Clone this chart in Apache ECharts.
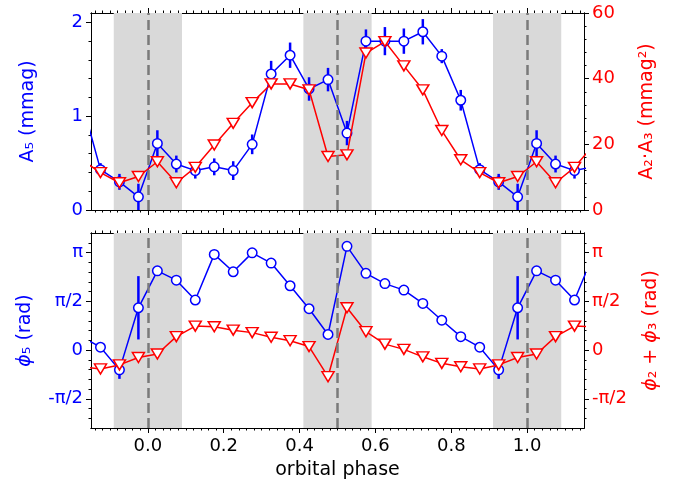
<!DOCTYPE html>
<html><head><meta charset="utf-8">
<script src="https://cdn.jsdelivr.net/npm/echarts@6/dist/echarts.min.js"></script>
<style>html,body{margin:0;padding:0;background:#fff}#c{width:683px;height:486px}</style>
</head><body><div id="c"></div><script>
// ---- data (one orbital cycle; repeated at +/-1 in phase for display) ----
const phases  = [0.025,0.075,0.125,0.175,0.225,0.275,0.325,0.375,0.425,0.475,0.525,0.575,0.625,0.675,0.725,0.775,0.825,0.875,0.925,0.975];
const amp5    = [0.71,0.49,0.42,0.46,0.42,0.70,1.45,1.65,1.29,1.39,0.82,1.80,1.80,1.80,1.90,1.64,1.17,0.43,0.30,0.14];
const amp5Err = [0.14,0.09,0.085,0.09,0.10,0.105,0.14,0.135,0.125,0.125,0.13,0.125,0.15,0.135,0.135,0.075,0.11,0.07,0.085,0.14];
const amp23   = [14.7,8.3,13.0,19.8,26.4,32.7,38.4,38.4,36.6,16.3,16.8,47.8,51.3,43.9,36.6,24.2,15.3,11.4,8.3,10.2];
const phi5    = [2.55,2.25,1.61,3.08,2.52,3.13,2.80,2.07,1.33,0.50,3.34,2.47,2.14,1.93,1.50,0.96,0.43,0.09,-0.64,1.36];
const phi5Err = [0.12,0.10,0.12,0.10,0.12,0.06,0.05,0.05,0.05,0.05,0.06,0.05,0.05,0.05,0.05,0.05,0.05,0.10,0.29,1.02];
const phi23   = [-0.13,0.43,0.77,0.75,0.64,0.56,0.41,0.30,0.11,-0.86,1.36,0.59,0.19,0.02,-0.22,-0.43,-0.54,-0.61,-0.48,-0.24];
const cycleShifts = [-1, 0, 1];
const eclipseCenters = [0, 0.5, 1];
const eclipseHalfWidth = 0.09;
const xTickValues = [0, 0.2, 0.4, 0.6, 0.8, 1.0];
const xTickLabels = ['0.0','0.2','0.4','0.6','0.8','1.0'];
const ampTickValues = [0, 1, 2];
const ampTickLabels = ['0', '1', '2'];
const prodTickValues = [0, 20, 40, 60];
const prodTickLabels = ['0', '20', '40', '60'];
const PI = Math.PI;
const phaseTickValues = [-PI/2, 0, PI/2, PI];
const phaseTickLabels = ['-π/2', '0', 'π/2', 'π'];

// ---- build ----
const xMin = -0.15, xMax = 1.15;
const FONT = 'DejaVu Sans';
const BLUE = '#0000ff', RED = '#ff0000';

function extend(vals, errs) {
  const out = [];
  cycleShifts.forEach(s => {
    phases.forEach((p, i) => {
      const x = +(p + s).toFixed(3);
      if (x > xMin - 0.06 && x < xMax + 0.06) out.push(errs ? [x, vals[i], errs[i]] : [x, vals[i]]);
    });
  });
  return out;
}
function minorList(step, kFrom, kTo, every) {
  const r = [];
  for (let k = kFrom; k <= kTo; k++) if (k % every !== 0) r.push(k * step);
  return r;
}
function fmt(values, labels) {
  return v => { for (let i = 0; i < values.length; i++) if (Math.abs(values[i] - v) < 1e-6) return labels[i]; return ''; };
}
const xMinor = minorList(0.02, -7, 57, 10);
const ampMinor = minorList(0.2, 1, 10, 5);
const prodMinor = minorList(4, 1, 15, 5);
const phaseMinor = minorList(PI/10, -7, 11, 5);

const xAxes = [];
function addX(grid, pos, major, labels) {
  xAxes.push({type:'value', gridIndex:grid, min:xMin, max:xMax, position:pos,
    splitLine:{show:false},
    axisLine:{show:true, onZero:false, lineStyle:{color:'#000', width:1}},
    axisTick:{show:true, inside:false, length: major ? 5 : 2.5, lineStyle:{color:'#000',width:1}, customValues: major ? xTickValues : xMinor},
    axisLabel:{show: !!labels, customValues:xTickValues, formatter: fmt(xTickValues, xTickLabels), color:'#000', fontSize:18, fontFamily:FONT, margin:9}
  });
  return xAxes.length - 1;
}
addX(0,'bottom',true,false); addX(0,'bottom',false,false); addX(0,'top',true,false); addX(0,'top',false,false);
addX(1,'bottom',true,true); addX(1,'bottom',false,false); addX(1,'top',true,false); addX(1,'top',false,false);
xAxes[4].name = 'orbital phase';
xAxes[4].nameLocation = 'middle';
xAxes[4].nameGap = 33;
xAxes[4].nameTextStyle = {color:'#000', fontSize:19, fontFamily:FONT};

const yAxes = [];
function addY(grid, pos, min, max, vals, labs, minor, color, name, gap) {
  const mk = (isMajor) => ({type:'value', gridIndex:grid, position:pos, min, max,
    splitLine:{show:false},
    axisLine:{show:true, onZero:false, lineStyle:{color:'#000', width:1}},
    axisTick:{show:true, inside:false, length: isMajor ? 5 : 2.5, lineStyle:{color:'#000', width:1}, customValues: isMajor ? vals : minor},
    axisLabel:{show:isMajor, customValues:vals, formatter:fmt(vals, labs), color, fontSize:18, fontFamily:FONT, margin:8}
  });
  const a = mk(true);
  a.name = name; a.nameLocation = 'middle'; a.nameGap = gap;
  a.nameTextStyle = {color, fontSize:19, fontFamily:FONT, rich:{i:{color, fontSize:19, fontFamily:FONT, fontStyle:'italic'}}};
  yAxes.push(a);
  const idx = yAxes.length - 1;
  yAxes.push(mk(false));
  return idx;
}
const yAmp = addY(0,'left',0,2.1,ampTickValues,ampTickLabels,ampMinor,BLUE,'A₅ (mmag)',53);
const yProd = addY(0,'right',0,60,prodTickValues,prodTickLabels,prodMinor,RED,'A₂·A₃ (mmag²)',54);
const yPhi5 = addY(1,'left',-0.8*PI,1.2*PI,phaseTickValues,phaseTickLabels,phaseMinor,BLUE,'{i|ϕ}₅ (rad)',56);
const yPhi23 = addY(1,'right',-0.8*PI,1.2*PI,phaseTickValues,phaseTickLabels,phaseMinor,RED,'{i|ϕ}₂ + {i|ϕ}₃ (rad)',58);

function bgSeries(xi, yi) {
  return {type:'line', xAxisIndex:xi, yAxisIndex:yi, data:[], z:0, silent:true,
    markArea:{silent:true, itemStyle:{color:'#d9d9d9'},
      data: eclipseCenters.map(c => [{xAxis:c - eclipseHalfWidth},{xAxis:c + eclipseHalfWidth}])},
    markLine:{silent:true, symbol:['none','none'], label:{show:false},
      lineStyle:{color:'#7a7a7a', type:[10,5], width:2.5},
      data: eclipseCenters.map(c => ({xAxis:c}))}
  };
}
function errSeries(xi, yi, data) {
  return {type:'custom', xAxisIndex:xi, yAxisIndex:yi, data, z:2, clip:true, silent:true,
    encode:{x:0, y:1},
    renderItem(params, api) {
      const x = api.value(0), y = api.value(1), e = api.value(2);
      const p1 = api.coord([x, y - e]), p2 = api.coord([x, y + e]);
      return {type:'line', shape:{x1:p1[0], y1:p1[1], x2:p2[0], y2:p2[1]},
        style:{stroke:BLUE, lineWidth:2.5}};
    }};
}
function circSeries(xi, yi, data) {
  return {type:'line', xAxisIndex:xi, yAxisIndex:yi, data, z:3, clip:true,
    symbol:'circle', symbolSize:9.5, showAllSymbol:true,
    itemStyle:{color:'#fff', borderColor:BLUE, borderWidth:1.5},
    lineStyle:{color:BLUE, width:1.5}};
}
function triSeries(xi, yi, data) {
  return {type:'line', xAxisIndex:xi, yAxisIndex:yi, data, z:4, clip:true,
    symbol:'triangle', symbolRotate:180, symbolSize:[12,10], showAllSymbol:true,
    itemStyle:{color:'#fff', borderColor:RED, borderWidth:1.5},
    lineStyle:{color:RED, width:1.5}};
}

const option = {
  animation:false,
  backgroundColor:'#fff',
  textStyle:{fontFamily:FONT},
  grid:[
    {left:91, top:13, width:493, height:197, containLabel:false},
    {left:91, top:233, width:493, height:195, containLabel:false}
  ],
  xAxis: xAxes,
  yAxis: yAxes,
  series:[
    bgSeries(0, yAmp),
    bgSeries(4, yPhi5),
    errSeries(0, yAmp, extend(amp5, amp5Err)),
    circSeries(0, yAmp, extend(amp5)),
    triSeries(0, yProd, extend(amp23)),
    errSeries(4, yPhi5, extend(phi5, phi5Err)),
    circSeries(4, yPhi5, extend(phi5)),
    triSeries(4, yPhi23, extend(phi23))
  ]
};
echarts.init(document.getElementById('c'), null, {renderer:'canvas'}).setOption(option);
</script></body></html>
